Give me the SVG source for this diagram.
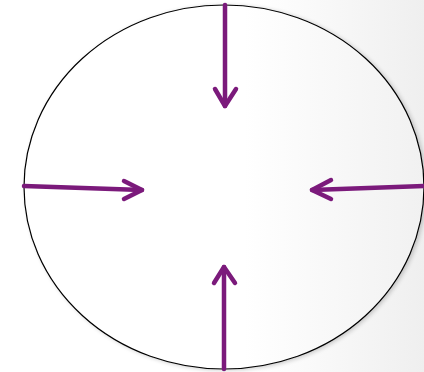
<svg xmlns="http://www.w3.org/2000/svg" width="424" height="372" viewBox="0 0 424 372">
<defs>
<linearGradient id="bg" x1="0" y1="0" x2="1" y2="0">
<stop offset="0" stop-color="#ffffff"/>
<stop offset="0.6" stop-color="#ffffff"/>
<stop offset="1" stop-color="#efefef"/>
</linearGradient>
<linearGradient id="fill" x1="0" y1="0" x2="1" y2="0">
<stop offset="0" stop-color="#ffffff"/>
<stop offset="0.55" stop-color="#ffffff"/>
<stop offset="1" stop-color="#f1f1f1"/>
</linearGradient>
<filter id="sh" x="-10%" y="-10%" width="120%" height="120%">
<feGaussianBlur in="SourceAlpha" stdDeviation="2"/>
<feOffset dx="2" dy="1"/>
<feComponentTransfer><feFuncA type="linear" slope="0.2"/></feComponentTransfer>
<feMerge><feMergeNode/><feMergeNode in="SourceGraphic"/></feMerge>
</filter>
</defs>
<style>
.arrow{fill:none;stroke:#7b1a7b;stroke-width:4.5;stroke-linecap:round;stroke-linejoin:round}
.ell{fill:url(#fill);stroke:#000;stroke-width:1.2}
</style>
<rect x="0" y="0" width="424" height="372" fill="url(#bg)"/>
<g id="circle">
<ellipse class="ell" cx="224" cy="187" rx="200" ry="182" filter="url(#sh)"/>
</g>
<g id="connectors">
<path class="arrow" d="M225,5 L225,106"/>
<path class="arrow" d="M215,89 L225,106 L236,89"/>
<path class="arrow" d="M24,186 L142,190"/>
<path class="arrow" d="M124,181 L142,190 L124,199"/>
<path class="arrow" d="M424,186 L312,190"/>
<path class="arrow" d="M331,180 L312,190 L331,199"/>
<path class="arrow" d="M224,369 L224,267"/>
<path class="arrow" d="M214,283 L224,267 L235,283"/>
</g>
</svg>
